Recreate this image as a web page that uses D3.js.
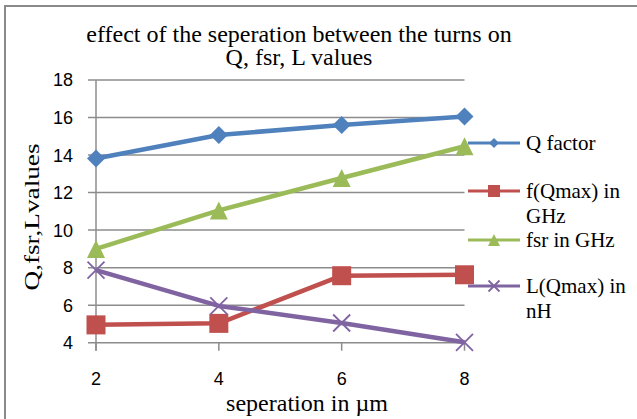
<!DOCTYPE html>
<html>
<head>
<meta charset="utf-8">
<script src="https://cdn.jsdelivr.net/npm/d3@7"></script>
<style>
  html, body { margin: 0; padding: 0; background: #fff; }
  svg { display: block; }
</style>
</head>
<body>
<svg id="chart" width="637" height="419"></svg>
<script>
// Separation between turns (µm) on the category axis
const separations = ["2", "4", "6", "8"];

// Measured series
const qFactor = [13.82, 15.07, 15.6, 16.05];
const fQmax   = [4.95, 5.03, 7.57, 7.62];
const fsr     = [9.0, 11.05, 12.78, 14.47];
const lQmax   = [7.87, 5.96, 5.05, 4.02];

const seriesNames = ["Q factor", "f(Qmax) in\nGHz", "fsr in GHz", "L(Qmax) in\nnH"];
const yTicks = [4, 6, 8, 10, 12, 14, 16, 18];

const titleLines = ["effect of the seperation between the turns on", "Q, fsr, L values"];
const xTitle = "seperation in µm";
const yTitle = "Q,fsr,Lvalues";

const colors = ["#4F81BD", "#C0504D", "#9BBB59", "#8064A2"];
const markers = ["diamond", "square", "triangle", "cross"];
const seriesValues = [qFactor, fQmax, fsr, lQmax];

const svg = d3.select("#chart");
const gridColor = "#8c8c8c";
const serif = "'Liberation Serif', 'Times New Roman', serif";
const sans = "'Liberation Sans', Arial, sans-serif";

// Outer chart border
svg.append("rect")
  .attr("x", 5).attr("y", 6)
  .attr("width", 640).attr("height", 420)
  .attr("fill", "none")
  .attr("stroke", "#8a8a8a")
  .attr("stroke-width", 2);

const x = d3.scalePoint().domain(separations).range([96, 464.5]);
const y = d3.scaleLinear().domain([4, 18]).range([342.7, 80]);

// Horizontal gridlines
svg.append("g")
  .selectAll("line")
  .data(yTicks)
  .join("line")
  .attr("x1", 88).attr("x2", 464.5)
  .attr("y1", d => y(d)).attr("y2", d => y(d))
  .attr("stroke", gridColor)
  .attr("stroke-width", 1.5);

// Value axis line
svg.append("line")
  .attr("x1", 96).attr("x2", 96)
  .attr("y1", y(18)).attr("y2", y(4) + 8)
  .attr("stroke", gridColor)
  .attr("stroke-width", 1.5);

// Category tick marks
svg.append("g")
  .selectAll("line")
  .data(separations)
  .join("line")
  .attr("x1", d => x(d)).attr("x2", d => x(d))
  .attr("y1", y(4)).attr("y2", y(4) + 8)
  .attr("stroke", gridColor)
  .attr("stroke-width", 1.5);

// Value tick labels
svg.append("g")
  .selectAll("text")
  .data(yTicks)
  .join("text")
  .attr("x", 73)
  .attr("y", d => y(d))
  .attr("dy", "0.36em")
  .attr("text-anchor", "end")
  .attr("font-family", sans)
  .attr("font-size", 18)
  .attr("fill", "#000")
  .text(d => d);

// Category tick labels
svg.append("g")
  .selectAll("text")
  .data(separations)
  .join("text")
  .attr("x", d => x(d))
  .attr("y", 385)
  .attr("text-anchor", "middle")
  .attr("font-family", sans)
  .attr("font-size", 18)
  .attr("fill", "#000")
  .text(d => d);

// Marker shapes
function drawMarker(g, type, cx, cy, size, color) {
  if (type === "diamond") {
    const h = size / 2;
    g.append("path")
      .attr("d", `M${cx},${cy - h}L${cx + h},${cy}L${cx},${cy + h}L${cx - h},${cy}Z`)
      .attr("fill", color);
  } else if (type === "square") {
    g.append("rect")
      .attr("x", cx - size / 2).attr("y", cy - size / 2)
      .attr("width", size).attr("height", size)
      .attr("fill", color);
  } else if (type === "triangle") {
    const h = size / 2;
    g.append("path")
      .attr("d", `M${cx},${cy - h}L${cx + h},${cy + h}L${cx - h},${cy + h}Z`)
      .attr("fill", color);
  } else if (type === "cross") {
    const h = size / 2;
    g.append("path")
      .attr("d", `M${cx - h},${cy - h}L${cx + h},${cy + h}M${cx - h},${cy + h}L${cx + h},${cy - h}`)
      .attr("stroke", color)
      .attr("stroke-width", 1.8)
      .attr("fill", "none");
  }
}

const markerSizes = [18, 19, 18, 17];
const line = d3.line().x(d => x(d.cat)).y(d => y(d.v));

seriesValues.forEach((vals, i) => {
  const pts = vals.map((v, j) => ({ cat: separations[j], v }));
  const g = svg.append("g");
  g.append("path")
    .datum(pts)
    .attr("d", line)
    .attr("fill", "none")
    .attr("stroke", colors[i])
    .attr("stroke-width", 4.5)
    .attr("stroke-linejoin", "round");
  pts.forEach(p => drawMarker(g, markers[i], x(p.cat), y(p.v), markerSizes[i], colors[i]));
});

// Legend
const legendYs = [143, 191, 240, 286];
const legendMarkerSizes = [10, 12, 12, 11];
const legend = svg.append("g");
seriesNames.forEach((name, i) => {
  const ly = legendYs[i];
  legend.append("line")
    .attr("x1", 468).attr("x2", 520)
    .attr("y1", ly).attr("y2", ly)
    .attr("stroke", colors[i])
    .attr("stroke-width", 3);
  drawMarker(legend, markers[i], 494, ly, legendMarkerSizes[i], colors[i]);
  const t = legend.append("text")
    .attr("x", 526)
    .attr("y", ly + 7)
    .attr("font-family", serif)
    .attr("font-size", 21)
    .attr("fill", "#000");
  name.split("\n").forEach((part, k) => {
    t.append("tspan")
      .attr("x", 526)
      .attr("dy", k === 0 ? 0 : 25)
      .text(part);
  });
});

// Chart title
svg.append("g")
  .selectAll("text")
  .data(titleLines)
  .join("text")
  .attr("x", 299)
  .attr("y", (d, i) => 41.5 + i * 23.5)
  .attr("text-anchor", "middle")
  .attr("font-family", serif)
  .attr("font-size", 24)
  .attr("fill", "#000")
  .text(d => d);

// Axis titles
svg.append("text")
  .attr("x", 307)
  .attr("y", 411)
  .attr("text-anchor", "middle")
  .attr("font-family", serif)
  .attr("font-size", 24)
  .attr("fill", "#000")
  .text(xTitle);

svg.append("text")
  .attr("transform", "translate(39,217) rotate(-90)")
  .attr("text-anchor", "middle")
  .attr("font-family", serif)
  .attr("font-size", 21)
  .attr("textLength", 147)
  .attr("lengthAdjust", "spacingAndGlyphs")
  .attr("fill", "#000")
  .text(yTitle);
</script>
</body>
</html>
